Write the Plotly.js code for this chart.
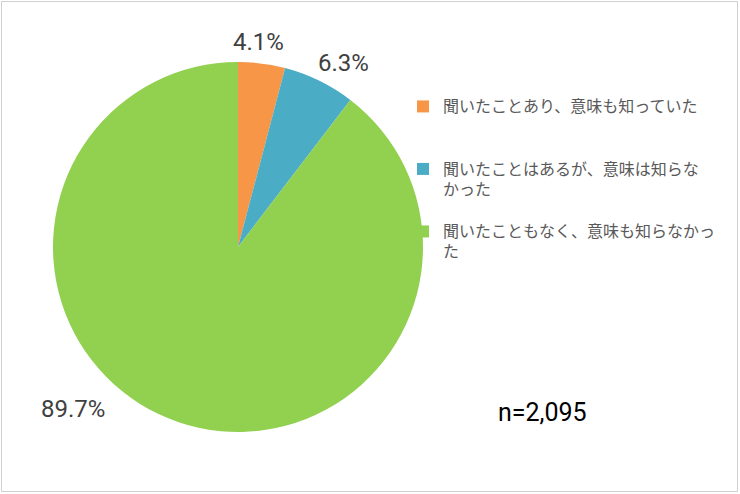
<!DOCTYPE html>
<html>
<head>
<meta charset="utf-8">
<script src="https://cdn.plot.ly/plotly-3.0.1.min.js"></script>
<style>
  html, body { margin: 0; padding: 0; background: #ffffff; }
  #chart { width: 740px; height: 494px; }
</style>
</head>
<body>
<div id="chart"></div>
<script>
// ---- data ----
const categories = [
  "聞いたことあり、意味も知っていた",
  "聞いたことはあるが、意味は知らな<br>かった",
  "聞いたこともなく、意味も知らなかっ<br>た"
];
const shares = [4.1, 6.3, 89.7];
const colors = ["#F79646", "#4BACC6", "#92D050"];
const sampleSize = 2095;

// ---- helpers ----
const W = 740, H = 494;
const px = x => x / W;
const py = y => 1 - y / H;

// legend labels: 16px glyphs, padded to three lines each so items are evenly spaced
const legendLabels = categories.map(c => {
  const lines = c.split("<br>");
  while (lines.length < 3) lines.push("&nbsp;");
  return lines.map(l => '<span style="font-size:16px">' + l + '</span>').join("<br>");
});

const trace = {
  type: "pie",
  labels: legendLabels,
  values: shares,
  sort: false,
  direction: "clockwise",
  rotation: 0,
  marker: { colors: colors, line: { width: 0 } },
  textinfo: "none",
  hoverinfo: "skip",
  domain: { x: [px(53), px(423)], y: [py(432), py(62)] }
};

// percentage labels positions (pixel centres)
const labelPos = [[258, 42], [343, 63], [73, 409]];
const annotations = shares.map((v, i) => ({
  xref: "paper", yref: "paper",
  x: px(labelPos[i][0]), y: py(labelPos[i][1]),
  xanchor: "center", yanchor: "middle",
  text: v.toFixed(1) + "%",
  showarrow: false,
  font: { family: "Roboto, 'Liberation Sans', sans-serif", size: 24, color: "#404040" }
}));
annotations.push({
  xref: "paper", yref: "paper",
  x: px(542), y: py(412),
  xanchor: "center", yanchor: "middle",
  text: "n=" + sampleSize.toLocaleString("en-US"),
  showarrow: false,
  font: { family: "Roboto, 'Liberation Sans', sans-serif", size: 25, color: "#000000" }
});

const layout = {
  width: W, height: H,
  margin: { l: 0, r: 0, t: 0, b: 0 },
  paper_bgcolor: "#ffffff",
  showlegend: true,
  legend: {
    x: px(403), y: py(90), xanchor: "left", yanchor: "top",
    bgcolor: "rgba(0,0,0,0)",
    valign: "top",
    font: { family: "'Noto Sans CJK JP', sans-serif", size: 15.26, color: "#595959" }
  },
  annotations: annotations,
  shapes: [{
    type: "rect", xref: "paper", yref: "paper",
    x0: px(1.5), x1: px(737.5), y0: py(491.5), y1: py(1.5),
    line: { color: "#d0d0d0", width: 1 }
  }]
};

Plotly.newPlot("chart", [trace], layout, { displayModeBar: false, staticPlot: true });
</script>
</body>
</html>
